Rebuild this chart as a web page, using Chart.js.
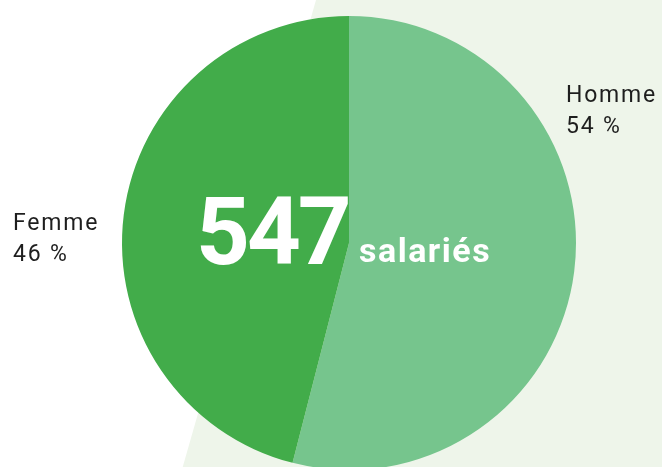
<!DOCTYPE html>
<html>
<head>
<meta charset="utf-8">
<script src="https://cdn.jsdelivr.net/npm/chart.js@4/dist/chart.umd.min.js"></script>
<style>
  html, body { margin: 0; padding: 0; background: #ffffff; overflow: hidden; }
  #wrap { position: relative; width: 662px; height: 480px; }
</style>
</head>
<body>
<div id="wrap"><canvas id="pieChart" width="662" height="480"></canvas></div>
<script>
// Chart data
const categories = ['Homme', 'Femme'];
const percentages = [54, 46];
const sliceColors = ['#76c58d', '#42ac4a'];
const totalLabel = '547';
const totalUnit = 'salariés';

// Pale band behind the right part of the chart
const backdropPlugin = {
  id: 'backdrop',
  beforeDraw(chart) {
    const { ctx } = chart;
    ctx.save();
    ctx.fillStyle = '#eef5ea';
    ctx.beginPath();
    ctx.moveTo(316, 0);
    ctx.lineTo(662, 0);
    ctx.lineTo(662, 480);
    ctx.lineTo(179, 480);
    ctx.closePath();
    ctx.fill();
    ctx.restore();
  }
};

// Center total and the outside labels
const labelsPlugin = {
  id: 'pieLabels',
  afterDraw(chart) {
    const { ctx } = chart;
    ctx.save();
    ctx.fillStyle = '#ffffff';
    ctx.textBaseline = 'alphabetic';
    ctx.textAlign = 'left';
    ctx.letterSpacing = '-3px';
    ctx.font = 'bold 94px Roboto';
    ctx.fillText(totalLabel, 196, 264);
    ctx.letterSpacing = '1.5px';
    ctx.font = 'bold 34px Roboto';
    ctx.fillText(totalUnit, 359, 262);

    ctx.fillStyle = '#1e1e1e';
    ctx.letterSpacing = '1.8px';
    ctx.font = '23px Roboto';
    ctx.fillText(categories[1], 13, 230);
    ctx.fillText(percentages[1] + ' %', 13, 261);
    ctx.fillText(categories[0], 566, 102);
    ctx.fillText(percentages[0] + ' %', 566, 133);
    ctx.restore();
  }
};

const ctx = document.getElementById('pieChart').getContext('2d');
new Chart(ctx, {
  type: 'pie',
  data: {
    labels: categories,
    datasets: [{
      data: percentages,
      backgroundColor: sliceColors,
      borderWidth: 0
    }]
  },
  options: {
    responsive: false,
    maintainAspectRatio: false,
    animation: false,
    layout: { padding: { top: 16, bottom: 10, left: 122, right: 86 } },
    plugins: {
      legend: { display: false },
      tooltip: { enabled: false }
    }
  },
  plugins: [backdropPlugin, labelsPlugin]
});
</script>
</body>
</html>
